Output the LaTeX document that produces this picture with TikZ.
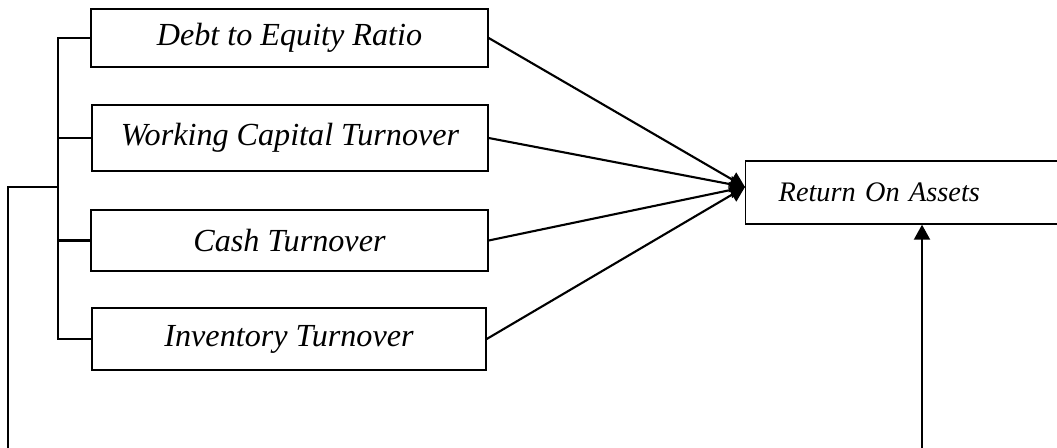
\documentclass[tikz,border=0pt]{standalone}
\usepackage{fontspec}
\setmainfont{Liberation Serif}
\usetikzlibrary{arrows.meta}

\begin{document}
\begin{tikzpicture}[line width=1.2pt,>={Triangle[length=3mm,width=3.2mm]},
  var/.style={draw,line width=0.8pt,inner sep=0pt,
    font=\fontsize{18.3}{21}\selectfont\itshape}]
\useasboundingbox (0,0) rectangle (21.14,-8.96);
% 自变量
\node[var,minimum width=7.94cm,minimum height=1.16cm] (der)  at (5.79,-0.76) {Debt to Equity Ratio};
\node[var,minimum width=7.92cm,minimum height=1.32cm] (wct)  at (5.80,-2.76) {Working Capital Turnover};
\node[var,minimum width=7.94cm,minimum height=1.22cm] (cash) at (5.79,-4.81) {Cash Turnover};
\node[var,minimum width=7.88cm,minimum height=1.24cm] (inv)  at (5.78,-6.78) {Inventory Turnover};
% 因变量
\node[var,anchor=west,minimum height=1.26cm,inner xsep=0.66cm,text width=5.18cm,align=left,
  font=\fontsize{16.1}{19}\selectfont\itshape]
  (roa) at (14.9,-3.85) {Return On Assets};
\coordinate (hub) at (14.9,-3.74);
% 括号
\coordinate (spine) at (1.16,-3.74);
\coordinate (bl) at (0.16,-8.96);
\coordinate (br) at (18.44,-8.96);
\foreach \v in {der,wct,cash,inv}
  \draw (\v.west) -| (spine);
\draw (spine) -| (bl);
% 箭头
\foreach \v in {der,wct,cash,inv}
  \draw[->] (\v.east) -- (hub);
\draw[->] (br) -- (br |- roa.south);
\end{tikzpicture}
\end{document}
